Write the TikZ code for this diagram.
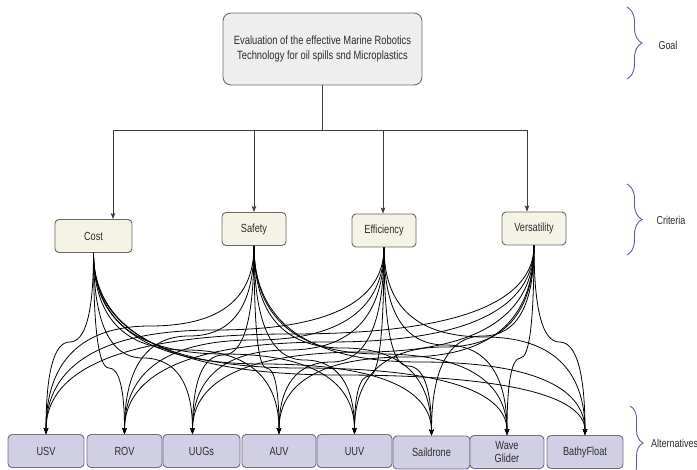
\documentclass[tikz,border=0pt]{standalone}
\usepackage{fontspec}
\setmainfont{Liberation Sans}[FakeStretch=0.78]
\usetikzlibrary{calc,arrows.meta,decorations.pathreplacing}
\definecolor{goalfill}{RGB}{238,238,238}
\definecolor{goaldraw}{RGB}{110,110,110}
\definecolor{critfill}{RGB}{245,243,230}
\definecolor{critdraw}{RGB}{105,105,100}
\definecolor{altfill}{RGB}{208,207,228}
\definecolor{altdraw}{RGB}{112,110,138}
\definecolor{bracecol}{RGB}{85,85,225}
\definecolor{txtcol}{RGB}{45,45,45}
\definecolor{barcol}{RGB}{60,60,60}
\tikzset{
  basebox/.style={rectangle, rounded corners=4pt, line width=0.9pt, inner sep=1pt, align=center,
     text=txtcol, font=\fontsize{11.8}{13.5}\selectfont},
  goalbox/.style={basebox, fill=goalfill, draw=goaldraw, rounded corners=8pt,
     minimum width=199pt, minimum height=72pt, font=\fontsize{12}{15}\selectfont},
  critbox/.style={basebox, fill=critfill, draw=critdraw, minimum height=33pt},
  altbox/.style={basebox, fill=altfill, draw=altdraw, minimum height=33pt},
  arr/.style={draw=barcol, line width=0.9pt, -{Stealth[length=6pt,width=4.5pt,inset=1.2pt]}},
  edge/.style={draw=black, line width=0.8pt, -{Stealth[length=6pt,width=4.5pt,inset=1.2pt]}},
  bracestyle/.style={draw=bracecol, line width=0.9pt, decorate, decoration={brace, amplitude=#1}},
  sidelabel/.style={text=txtcol, font=\fontsize{11.5}{13}\selectfont, inner sep=0pt}
}
\newcommand\qedge[3]{%
  \coordinate (qa) at (#1.south |- 0,#3);
  \coordinate (qb) at (#2 |- 0,#3);
  \coordinate (qm) at ($(qa)!.5!(qb)$);
  \draw[edge] (#1.south) .. controls ($(#1.south)!2/3!(qa)$) and ($(qm)!2/3!(qa)$) .. (qm)
     .. controls ($(qm)!2/3!(qb)$) and ($(#2)!2/3!(qb)$) .. (#2);
}
\begin{document}
\begin{tikzpicture}[x=1pt,y=-1pt]
\useasboundingbox[fill=white] (0,0) rectangle (697,470);
\clip (0,0) rectangle (697,470);

% goal
\node[goalbox] (goal) at (322.5,49) {Evaluation of the effective Marine Robotics\\Technology for oil spills snd Microplastics};

% criteria
\node[critbox, minimum width=77pt] (cost) at (93.5,236) {Cost};
\node[critbox, minimum width=64pt] (safety) at (254,229) {Safety};
\node[critbox, minimum width=64pt] (eff) at (384,230.5) {Efficiency};
\node[critbox, minimum width=64pt] (vers) at (534,228.5) {Versatility};

% alternatives
\node[altbox, minimum width=76pt] (usv) at (46,451) {USV};
\node[altbox, minimum width=75pt] (rov) at (124.5,451) {ROV};
\node[altbox, minimum width=77pt] (uugs) at (201.5,451) {UUGs};
\node[altbox, minimum width=74pt] (auv) at (279,451) {AUV};
\node[altbox, minimum width=75pt] (uuv) at (354.5,451) {UUV};
\node[altbox, minimum width=77pt] (sail) at (431.5,452.5) {Saildrone};
\node[altbox, minimum width=74pt] (wave) at (507,452) {Wave\\Glider};
\node[altbox, minimum width=76pt] (bathy) at (585,452) {BathyFloat};

% entry points
\coordinate (cin) at ($(cost.north)+(19.5,0)$);
\coordinate (sin) at (safety.north);
\coordinate (ein) at ($(eff.north)+(-1,0)$);
\coordinate (vin) at ($(vers.north)+(-7,0)$);
\coordinate (tusv) at (usv.north);
\coordinate (trov) at (rov.north);
\coordinate (tuugs) at ($(uugs.north)+(-9,0)$);
\coordinate (tauv) at (auv.north);
\coordinate (tuuv) at (uuv.north);
\coordinate (tsail) at (sail.north);
\coordinate (twave) at (wave.north);
\coordinate (tbathy) at (bathy.north);

% goal -> criteria
\draw[arr] (goal.south) -- ++(0,45) -| (cin);
\draw[arr] (goal.south) -- ++(0,45) -| (sin);
\draw[arr] (goal.south) -- ++(0,45) -| (ein);
\draw[arr] (goal.south) -- ++(0,45) -| (vin);

% criteria -> alternatives
\qedge{cost}{tusv}{342}
\qedge{cost}{trov}{368}
\qedge{cost}{tuugs}{358}
\qedge{cost}{tauv}{350}
\qedge{cost}{tuuv}{354}
\qedge{cost}{tsail}{364}
\qedge{cost}{twave}{368}
\qedge{cost}{tbathy}{375}

\qedge{safety}{tusv}{326}
\qedge{safety}{trov}{336}
\qedge{safety}{tuugs}{355}
\qedge{safety}{tauv}{368}
\qedge{safety}{tuuv}{360}
\qedge{safety}{tsail}{348}
\qedge{safety}{twave}{354}
\qedge{safety}{tbathy}{362}

\qedge{eff}{tusv}{330}
\qedge{eff}{trov}{340}
\qedge{eff}{tuugs}{350}
\qedge{eff}{tauv}{362}
\qedge{eff}{tuuv}{376}
\qedge{eff}{tsail}{366}
\qedge{eff}{twave}{345}
\qedge{eff}{tbathy}{337}

\qedge{vers}{tusv}{334}
\qedge{vers}{trov}{342}
\qedge{vers}{tuugs}{352}
\qedge{vers}{tauv}{357}
\qedge{vers}{tuuv}{347}
\qedge{vers}{tsail}{336}
\qedge{vers}{twave}{358}
\qedge{vers}{tbathy}{342}

% braces and labels
\draw[bracestyle=15pt] (627,7) -- (627,79);
\draw[bracestyle=15pt] (627,184) -- (627,255);
\draw[bracestyle=13pt] (630,406) -- (630,480);
\node[sidelabel] (lgoal) at (668,45) {Goal};
\node[sidelabel] (lcrit) at (671,220) {Criteria};
\node[sidelabel, anchor=west] (lalt) at (651,443) {Alternatives};
\end{tikzpicture}
\end{document}
